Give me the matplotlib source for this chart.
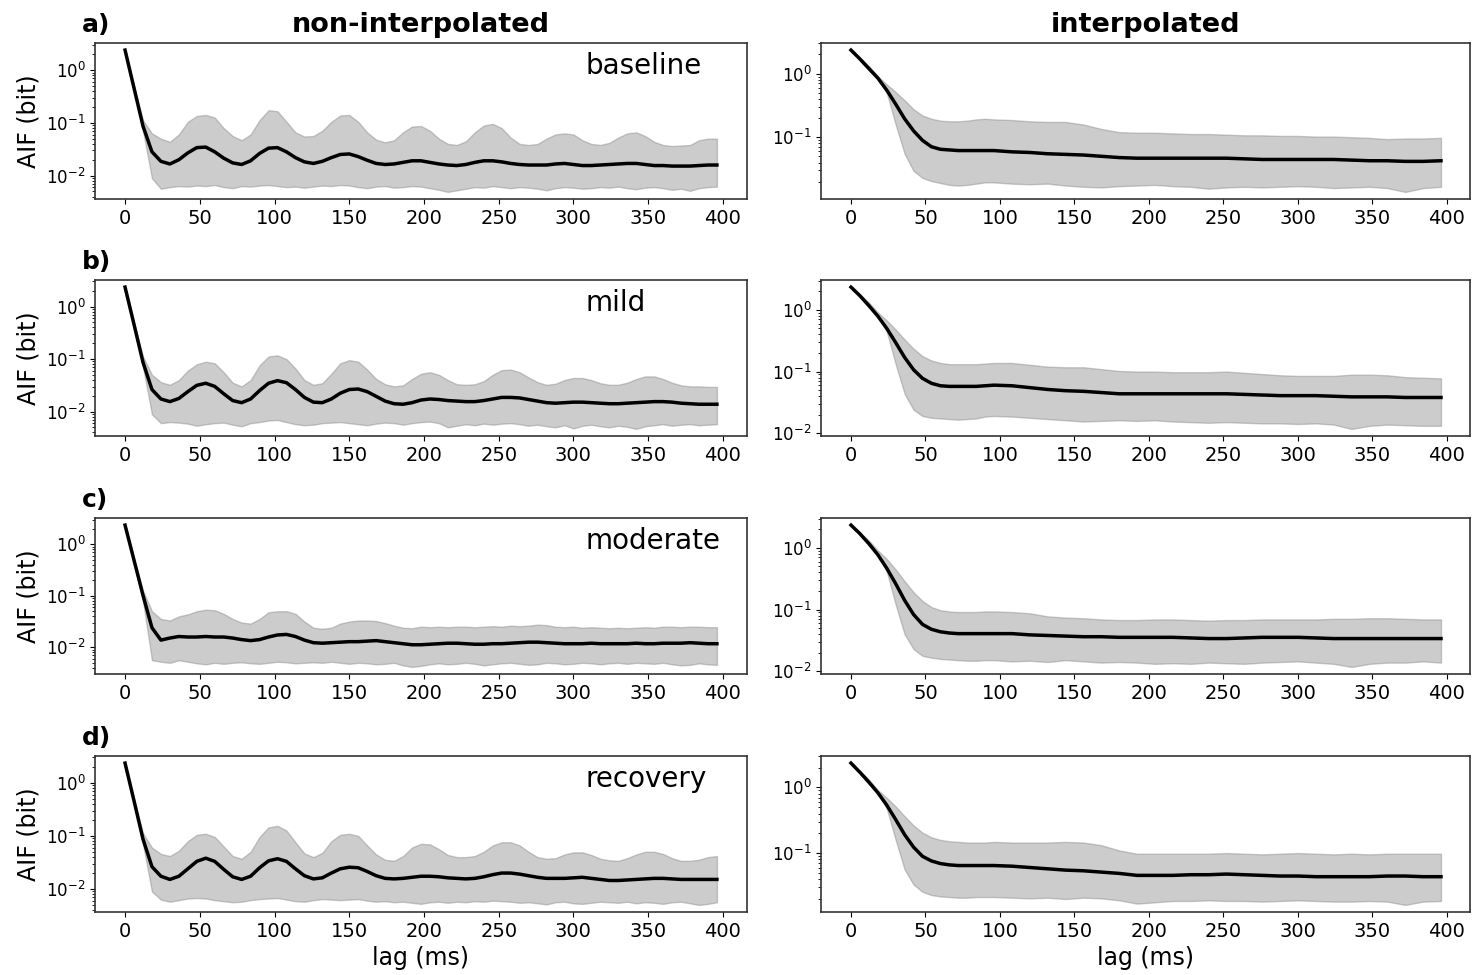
import matplotlib.pyplot as plt
import numpy as np

# lags in ms: raw curves read every 6 ms,
# interpolated curves every 6 ms up to 90 ms and every 12 ms after that
lag_raw = np.arange(0, 397, 6)
lag_interp = np.concatenate([np.arange(0, 96, 6), np.arange(96, 397, 12)])

conditions = ['baseline', 'mild', 'moderate', 'recovery']
panel_labels = ['a)', 'b)', 'c)', 'd)']

# all values are log10 of AIF (bit)

# ---- non-interpolated ----
baseline_raw_mean = [0.38, -0.34, -1.06, -1.55, -1.73, -1.78, -1.70, -1.57, -1.47, -1.46,
                     -1.55, -1.67, -1.76, -1.79, -1.72, -1.58, -1.48, -1.47, -1.55, -1.66,
                     -1.74, -1.77, -1.73, -1.66, -1.60, -1.59, -1.64, -1.71, -1.77, -1.79,
                     -1.78, -1.75, -1.72, -1.72, -1.75, -1.78, -1.80, -1.81, -1.79, -1.75,
                     -1.72, -1.72, -1.74, -1.77, -1.79, -1.80, -1.80, -1.80, -1.78, -1.77,
                     -1.79, -1.81, -1.81, -1.80, -1.79, -1.78, -1.77, -1.77, -1.79, -1.81,
                     -1.81, -1.82, -1.82, -1.82, -1.81, -1.80, -1.80]
baseline_raw_hi = [0.38, -0.31, -0.95, -1.20, -1.30, -1.36, -1.22, -0.98, -0.87, -0.85,
                   -0.90, -1.10, -1.25, -1.33, -1.22, -0.95, -0.76, -0.78, -0.98, -1.18,
                   -1.26, -1.25, -1.15, -0.98, -0.86, -0.85, -0.98, -1.18, -1.32, -1.37,
                   -1.33, -1.18, -1.07, -1.06, -1.15, -1.30, -1.40, -1.42, -1.35, -1.18,
                   -1.05, -1.02, -1.10, -1.28, -1.40, -1.42, -1.40, -1.30, -1.22, -1.20,
                   -1.22, -1.33, -1.40, -1.42, -1.38, -1.28, -1.20, -1.18, -1.25, -1.36,
                   -1.42, -1.44, -1.43, -1.42, -1.33, -1.30, -1.30]
baseline_raw_lo = [0.38, -0.37, -1.15, -2.05, -2.25, -2.22, -2.20, -2.21, -2.19, -2.20,
                   -2.18, -2.22, -2.24, -2.20, -2.21, -2.19, -2.18, -2.20, -2.22, -2.21,
                   -2.23, -2.21, -2.19, -2.20, -2.18, -2.19, -2.22, -2.24, -2.21, -2.20,
                   -2.23, -2.22, -2.20, -2.21, -2.24, -2.27, -2.31, -2.28, -2.25, -2.22,
                   -2.23, -2.20, -2.22, -2.24, -2.22, -2.23, -2.25, -2.28, -2.24, -2.22,
                   -2.23, -2.25, -2.24, -2.22, -2.23, -2.21, -2.24, -2.26, -2.23, -2.22,
                   -2.24, -2.27, -2.25, -2.29, -2.24, -2.22, -2.21]

mild_raw_mean = [0.37, -0.34, -1.06, -1.58, -1.76, -1.81, -1.75, -1.62, -1.50, -1.46,
                 -1.52, -1.66, -1.79, -1.83, -1.76, -1.60, -1.46, -1.41, -1.45, -1.58,
                 -1.73, -1.82, -1.83, -1.76, -1.65, -1.58, -1.57, -1.62, -1.71, -1.80,
                 -1.85, -1.86, -1.83, -1.78, -1.76, -1.77, -1.79, -1.80, -1.81, -1.81,
                 -1.79, -1.76, -1.73, -1.73, -1.74, -1.77, -1.80, -1.83, -1.84, -1.83,
                 -1.82, -1.82, -1.83, -1.84, -1.85, -1.85, -1.84, -1.83, -1.82, -1.81,
                 -1.81, -1.82, -1.84, -1.85, -1.86, -1.86, -1.86]
mild_raw_hi = [0.37, -0.31, -0.95, -1.30, -1.44, -1.49, -1.40, -1.22, -1.10, -1.05,
               -1.08, -1.25, -1.45, -1.52, -1.40, -1.12, -0.95, -0.93, -1.00, -1.18,
               -1.40, -1.49, -1.46, -1.28, -1.08, -1.02, -1.05, -1.20, -1.38, -1.48,
               -1.52, -1.50, -1.38, -1.28, -1.25, -1.30, -1.40, -1.48, -1.49, -1.48,
               -1.42, -1.30, -1.21, -1.20, -1.25, -1.35, -1.44, -1.49, -1.47, -1.40,
               -1.36, -1.36, -1.40, -1.46, -1.49, -1.49, -1.45, -1.38, -1.33, -1.33,
               -1.38, -1.45, -1.50, -1.52, -1.52, -1.53, -1.53]
mild_raw_lo = [0.37, -0.37, -1.15, -2.05, -2.22, -2.20, -2.21, -2.23, -2.27, -2.24,
               -2.22, -2.21, -2.25, -2.28, -2.22, -2.20, -2.17, -2.16, -2.20, -2.24,
               -2.26, -2.25, -2.22, -2.21, -2.20, -2.22, -2.24, -2.26, -2.23, -2.21,
               -2.22, -2.25, -2.22, -2.20, -2.19, -2.22, -2.30, -2.27, -2.24, -2.26,
               -2.23, -2.25, -2.23, -2.22, -2.24, -2.27, -2.25, -2.28, -2.30, -2.26,
               -2.32, -2.27, -2.25, -2.28, -2.30, -2.27, -2.29, -2.33, -2.28, -2.26,
               -2.24, -2.27, -2.25, -2.24, -2.26, -2.25, -2.24]

moderate_raw_mean = [0.37, -0.31, -0.99, -1.62, -1.86, -1.82, -1.79, -1.80, -1.80, -1.79,
                     -1.80, -1.80, -1.82, -1.85, -1.87, -1.85, -1.80, -1.76, -1.75, -1.79,
                     -1.86, -1.91, -1.92, -1.91, -1.90, -1.89, -1.89, -1.88, -1.87, -1.89,
                     -1.91, -1.93, -1.95, -1.95, -1.94, -1.93, -1.92, -1.92, -1.93, -1.94,
                     -1.94, -1.93, -1.93, -1.92, -1.91, -1.90, -1.90, -1.91, -1.92, -1.93,
                     -1.93, -1.93, -1.92, -1.93, -1.93, -1.93, -1.93, -1.92, -1.93, -1.93,
                     -1.92, -1.92, -1.92, -1.91, -1.92, -1.93, -1.93]
moderate_raw_hi = [0.37, -0.28, -0.90, -1.30, -1.45, -1.48, -1.40, -1.36, -1.30, -1.27,
                   -1.28, -1.35, -1.45, -1.52, -1.54, -1.45, -1.32, -1.30, -1.30, -1.35,
                   -1.50, -1.62, -1.64, -1.62, -1.54, -1.50, -1.48, -1.48, -1.49, -1.53,
                   -1.58, -1.62, -1.63, -1.60, -1.61, -1.60, -1.61, -1.60, -1.60, -1.61,
                   -1.60, -1.59, -1.60, -1.58, -1.59, -1.58, -1.56, -1.57, -1.60, -1.61,
                   -1.60, -1.62, -1.61, -1.62, -1.63, -1.62, -1.63, -1.62, -1.61, -1.62,
                   -1.60, -1.60, -1.61, -1.60, -1.60, -1.61, -1.61]
moderate_raw_lo = [0.37, -0.34, -1.10, -2.25, -2.28, -2.30, -2.25, -2.28, -2.31, -2.33,
                   -2.30, -2.32, -2.30, -2.29, -2.31, -2.32, -2.30, -2.28, -2.29, -2.31,
                   -2.30, -2.29, -2.30, -2.28, -2.30, -2.32, -2.30, -2.31, -2.33, -2.32,
                   -2.30, -2.35, -2.38, -2.36, -2.33, -2.31, -2.33, -2.32, -2.30, -2.32,
                   -2.35, -2.33, -2.31, -2.30, -2.32, -2.34, -2.33, -2.30, -2.31, -2.33,
                   -2.32, -2.30, -2.31, -2.33, -2.31, -2.30, -2.32, -2.30, -2.31, -2.32,
                   -2.30, -2.33, -2.35, -2.34, -2.31, -2.33, -2.34]

recovery_raw_mean = [0.37, -0.34, -1.06, -1.58, -1.76, -1.82, -1.76, -1.62, -1.48, -1.42,
                     -1.48, -1.63, -1.77, -1.82, -1.76, -1.60, -1.47, -1.43, -1.48, -1.62,
                     -1.75, -1.81, -1.79, -1.70, -1.62, -1.59, -1.60, -1.67, -1.75, -1.80,
                     -1.81, -1.80, -1.78, -1.76, -1.76, -1.77, -1.79, -1.80, -1.81, -1.80,
                     -1.77, -1.73, -1.70, -1.70, -1.72, -1.75, -1.78, -1.80, -1.80, -1.80,
                     -1.79, -1.78, -1.80, -1.82, -1.84, -1.84, -1.83, -1.82, -1.81, -1.80,
                     -1.80, -1.81, -1.82, -1.82, -1.82, -1.82, -1.82]
recovery_raw_hi = [0.37, -0.31, -0.95, -1.22, -1.34, -1.38, -1.28, -1.10, -0.98, -0.96,
                   -1.02, -1.20, -1.38, -1.43, -1.30, -1.02, -0.84, -0.81, -0.90, -1.12,
                   -1.33, -1.40, -1.32, -1.10, -0.98, -0.96, -1.00, -1.18, -1.35, -1.45,
                   -1.47, -1.38, -1.22, -1.15, -1.16, -1.25, -1.36, -1.40, -1.40, -1.38,
                   -1.30, -1.18, -1.12, -1.12, -1.18, -1.30, -1.40, -1.43, -1.42, -1.35,
                   -1.31, -1.31, -1.36, -1.43, -1.46, -1.47, -1.42, -1.35, -1.30, -1.30,
                   -1.34, -1.42, -1.47, -1.47, -1.45, -1.40, -1.38]
recovery_raw_lo = [0.37, -0.37, -1.15, -2.05, -2.20, -2.24, -2.21, -2.18, -2.17, -2.18,
                   -2.21, -2.23, -2.25, -2.24, -2.21, -2.19, -2.18, -2.17, -2.20, -2.23,
                   -2.24, -2.21, -2.19, -2.20, -2.21, -2.20, -2.19, -2.22, -2.24, -2.23,
                   -2.25, -2.24, -2.26, -2.28, -2.25, -2.24, -2.26, -2.24, -2.25, -2.23,
                   -2.24, -2.22, -2.23, -2.24, -2.26, -2.25, -2.27, -2.29, -2.25, -2.24,
                   -2.27, -2.28, -2.26, -2.24, -2.25, -2.26, -2.24, -2.27, -2.25, -2.26,
                   -2.28, -2.25, -2.24, -2.27, -2.30, -2.28, -2.25]

# ---- interpolated ----  (16 values for 0..90, then 26 values for 96..396)
baseline_int_mean = [0.37, 0.23, 0.08, -0.07, -0.26, -0.48, -0.71, -0.90, -1.05, -1.15,
                     -1.19, -1.20, -1.21, -1.21, -1.21, -1.21,
                     -1.21, -1.23, -1.24, -1.26, -1.27, -1.28, -1.30, -1.32, -1.33, -1.33,
                     -1.33, -1.33, -1.33, -1.33, -1.34, -1.35, -1.35, -1.35, -1.35, -1.35,
                     -1.36, -1.37, -1.37, -1.38, -1.38, -1.37]
baseline_int_hi = [0.37, 0.25, 0.12, -0.04, -0.17, -0.29, -0.42, -0.56, -0.66, -0.71,
                   -0.74, -0.75, -0.75, -0.74, -0.72, -0.71,
                   -0.72, -0.73, -0.75, -0.76, -0.76, -0.80, -0.87, -0.92, -0.93, -0.93,
                   -0.94, -0.95, -0.95, -0.96, -0.97, -0.97, -0.98, -0.98, -0.99, -0.99,
                   -1.00, -1.01, -1.03, -1.02, -1.02, -1.01]
baseline_int_lo = [0.37, 0.21, 0.05, -0.08, -0.30, -0.80, -1.26, -1.53, -1.64, -1.69,
                   -1.72, -1.75, -1.76, -1.75, -1.73, -1.71,
                   -1.71, -1.73, -1.74, -1.73, -1.76, -1.78, -1.79, -1.77, -1.76, -1.75,
                   -1.77, -1.78, -1.81, -1.79, -1.78, -1.79, -1.78, -1.77, -1.78, -1.80,
                   -1.79, -1.78, -1.80, -1.86, -1.80, -1.78]

mild_int_mean = [0.37, 0.23, 0.07, -0.10, -0.30, -0.53, -0.77, -0.97, -1.11, -1.19,
                 -1.23, -1.24, -1.24, -1.24, -1.24, -1.23,
                 -1.22, -1.23, -1.26, -1.29, -1.31, -1.32, -1.34, -1.36, -1.36, -1.36,
                 -1.36, -1.36, -1.36, -1.36, -1.37, -1.38, -1.39, -1.39, -1.39, -1.40,
                 -1.41, -1.41, -1.41, -1.42, -1.42, -1.42]
mild_int_hi = [0.37, 0.25, 0.12, -0.04, -0.17, -0.32, -0.48, -0.63, -0.75, -0.82,
               -0.86, -0.88, -0.88, -0.88, -0.88, -0.87,
               -0.86, -0.86, -0.89, -0.92, -0.93, -0.93, -0.96, -0.99, -1.00, -1.00,
               -1.01, -1.01, -1.01, -1.00, -1.02, -1.04, -1.06, -1.07, -1.07, -1.07,
               -1.05, -1.05, -1.06, -1.09, -1.10, -1.11]
mild_int_lo = [0.37, 0.21, 0.04, -0.10, -0.35, -0.88, -1.36, -1.62, -1.72, -1.75,
               -1.76, -1.77, -1.78, -1.77, -1.76, -1.73,
               -1.72, -1.73, -1.75, -1.77, -1.79, -1.81, -1.80, -1.79, -1.80, -1.79,
               -1.81, -1.82, -1.83, -1.82, -1.83, -1.84, -1.84, -1.85, -1.84, -1.86,
               -1.93, -1.88, -1.86, -1.87, -1.88, -1.88]

moderate_int_mean = [0.37, 0.23, 0.07, -0.11, -0.33, -0.58, -0.85, -1.08, -1.24, -1.32,
                     -1.36, -1.38, -1.39, -1.39, -1.39, -1.39,
                     -1.39, -1.39, -1.41, -1.42, -1.43, -1.44, -1.44, -1.45, -1.45, -1.45,
                     -1.45, -1.46, -1.47, -1.47, -1.46, -1.45, -1.45, -1.45, -1.46, -1.47,
                     -1.47, -1.47, -1.47, -1.47, -1.47, -1.47]
moderate_int_hi = [0.37, 0.25, 0.12, -0.04, -0.18, -0.35, -0.54, -0.72, -0.86, -0.96,
                   -1.01, -1.03, -1.04, -1.04, -1.04, -1.03,
                   -1.03, -1.04, -1.06, -1.11, -1.13, -1.14, -1.16, -1.17, -1.17, -1.16,
                   -1.16, -1.17, -1.18, -1.17, -1.17, -1.16, -1.16, -1.16, -1.16, -1.15,
                   -1.15, -1.14, -1.14, -1.15, -1.16, -1.16]
moderate_int_lo = [0.37, 0.21, 0.04, -0.10, -0.38, -0.92, -1.40, -1.64, -1.75, -1.78,
                   -1.80, -1.81, -1.82, -1.83, -1.83, -1.82,
                   -1.82, -1.84, -1.83, -1.85, -1.82, -1.84, -1.86, -1.85, -1.86, -1.88,
                   -1.87, -1.88, -1.86, -1.87, -1.88, -1.86, -1.85, -1.84, -1.86, -1.88,
                   -1.93, -1.88, -1.86, -1.86, -1.84, -1.86]

recovery_int_mean = [0.37, 0.23, 0.08, -0.08, -0.27, -0.49, -0.72, -0.91, -1.05, -1.12,
                     -1.16, -1.18, -1.19, -1.19, -1.19, -1.19,
                     -1.19, -1.20, -1.22, -1.24, -1.26, -1.27, -1.29, -1.31, -1.34, -1.34,
                     -1.34, -1.33, -1.33, -1.32, -1.33, -1.34, -1.35, -1.35, -1.36, -1.36,
                     -1.36, -1.36, -1.35, -1.35, -1.36, -1.36]
recovery_int_hi = [0.37, 0.25, 0.12, -0.04, -0.16, -0.29, -0.44, -0.58, -0.69, -0.76,
                   -0.80, -0.82, -0.83, -0.84, -0.84, -0.84,
                   -0.83, -0.84, -0.84, -0.84, -0.83, -0.84, -0.88, -0.96, -1.01, -1.01,
                   -1.01, -1.01, -1.01, -1.00, -1.01, -1.02, -1.01, -1.00, -1.01, -1.02,
                   -1.01, -1.02, -1.01, -1.01, -1.01, -1.01]
recovery_int_lo = [0.37, 0.21, 0.05, -0.08, -0.32, -0.80, -1.25, -1.48, -1.59, -1.64,
                   -1.66, -1.67, -1.68, -1.68, -1.67, -1.67,
                   -1.67, -1.68, -1.69, -1.68, -1.70, -1.68, -1.69, -1.72, -1.77, -1.75,
                   -1.73, -1.73, -1.72, -1.73, -1.73, -1.74, -1.73, -1.72, -1.73, -1.74,
                   -1.74, -1.73, -1.74, -1.79, -1.74, -1.73]

raw_curves = [
    (baseline_raw_mean, baseline_raw_lo, baseline_raw_hi),
    (mild_raw_mean, mild_raw_lo, mild_raw_hi),
    (moderate_raw_mean, moderate_raw_lo, moderate_raw_hi),
    (recovery_raw_mean, recovery_raw_lo, recovery_raw_hi),
]
int_curves = [
    (baseline_int_mean, baseline_int_lo, baseline_int_hi),
    (mild_int_mean, mild_int_lo, mild_int_hi),
    (moderate_int_mean, moderate_int_lo, moderate_int_hi),
    (recovery_int_mean, recovery_int_lo, recovery_int_hi),
]

fig = plt.figure(figsize=(14.73, 9.75), dpi=100)

row_bottoms = [0.7959, 0.5528, 0.3087, 0.0646]
row_height = 0.16


def draw_panel(ax, lag, mean, lo, hi):
    ax.fill_between(lag, 10 ** np.array(lo), 10 ** np.array(hi),
                    color='gray', alpha=0.4, linewidth=1)
    ax.plot(lag, 10 ** np.array(mean), color='black', lw=2.5)
    ax.set_yscale('log')
    ax.set_xticks(np.arange(0, 401, 50))
    ax.tick_params(axis='x', labelsize=14)
    ax.tick_params(axis='y', labelsize=12)
    for sp in ax.spines.values():
        sp.set_color('#333333')
        sp.set_linewidth(1.2)


for i, cond in enumerate(conditions):
    b = row_bottoms[i]
    ax_l = fig.add_axes([0.0648, b, 0.442, row_height])
    ax_r = fig.add_axes([0.5577, b, 0.4406, row_height])

    draw_panel(ax_l, lag_raw, *raw_curves[i])
    draw_panel(ax_r, lag_interp, *int_curves[i])

    ax_l.set_ylabel('AIF (bit)', fontsize=17)
    ax_l.text(0.752, 0.853, cond, transform=ax_l.transAxes,
              fontsize=20, ha='left', va='center')

    fig.text(0.0557, b + row_height + 18 / 975, panel_labels[i],
             fontsize=18, fontweight='bold', va='center')

    if i == 0:
        ax_l.set_title('non-interpolated', fontsize=19.5, fontweight='bold', pad=8)
        ax_r.set_title('interpolated', fontsize=19.5, fontweight='bold', pad=8)
    if i == 3:
        ax_l.set_xlabel('lag (ms)', fontsize=17)
        ax_r.set_xlabel('lag (ms)', fontsize=17)

fig.savefig('out.png', dpi=100)
